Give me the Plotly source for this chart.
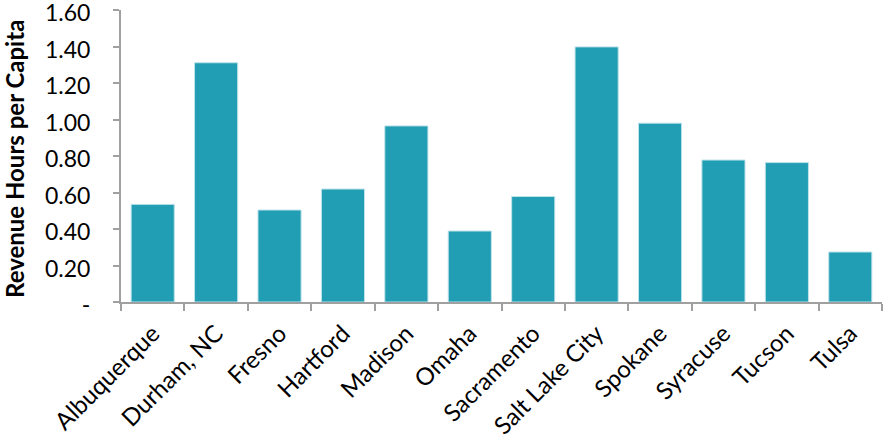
import plotly.graph_objects as go

cities = ["Albuquerque", "Durham, NC", "Fresno", "Hartford", "Madison", "Omaha",
          "Sacramento", "Salt Lake City", "Spokane", "Syracuse", "Tucson", "Tulsa"]
revenue_hours = [0.535, 1.311, 0.504, 0.619, 0.965, 0.389,
                 0.578, 1.398, 0.980, 0.778, 0.764, 0.274]
y_tickvals = [0, 0.2, 0.4, 0.6, 0.8, 1.0, 1.2, 1.4, 1.6]
y_ticktext = ["-", "0.20", "0.40", "0.60", "0.80", "1.00", "1.20", "1.40", "1.60"]

FONT = "Lato, 'Open Sans', sans-serif"

fig = go.Figure(go.Bar(
    x=cities, y=revenue_hours,
    marker=dict(color="#219EB3", line=dict(color="#BFE3EA", width=1)),
))

fig.update_layout(
    width=888, height=441,
    margin=dict(l=121, r=6, t=10, b=139, autoexpand=False),
    paper_bgcolor="white", plot_bgcolor="white",
    bargap=0.32,
    showlegend=False,
    font=dict(family=FONT, size=24, color="#000000"),
    annotations=[dict(
        text="<b>Revenue Hours per Capita</b>",
        xref="paper", yref="paper", x=0, y=0.5, xshift=-107, yshift=-3,
        textangle=-90, showarrow=False,
        font=dict(family=FONT, size=24, color="#000000"),
        xanchor="center", yanchor="middle",
    )],
)

fig.update_xaxes(
    showline=True, linecolor="#A0A0A0", linewidth=2,
    ticks="outside", ticklen=7, tickcolor="#A0A0A0", tickwidth=2,
    tickson="boundaries", tickangle=-45,
    showgrid=False, zeroline=False, automargin=False,
    ticklabeloverflow="allow", ticklabelstandoff=6,
    tickfont=dict(family=FONT, size=24, color="#000000"),
)
fig.update_yaxes(
    range=[0, 1.6001], tickvals=y_tickvals, ticktext=y_ticktext,
    showline=True, linecolor="#A0A0A0", linewidth=2,
    ticks="outside", ticklen=6, tickcolor="#A0A0A0", tickwidth=2,
    showgrid=False, zeroline=False, automargin=False,
    ticklabeloverflow="allow", ticklabelstandoff=18, ticklabelshift=3,
    tickfont=dict(family=FONT, size=23, color="#000000"),
)

fig.write_html("out.html", config={"displayModeBar": False},
               post_script="document.body.style.margin='0';")
